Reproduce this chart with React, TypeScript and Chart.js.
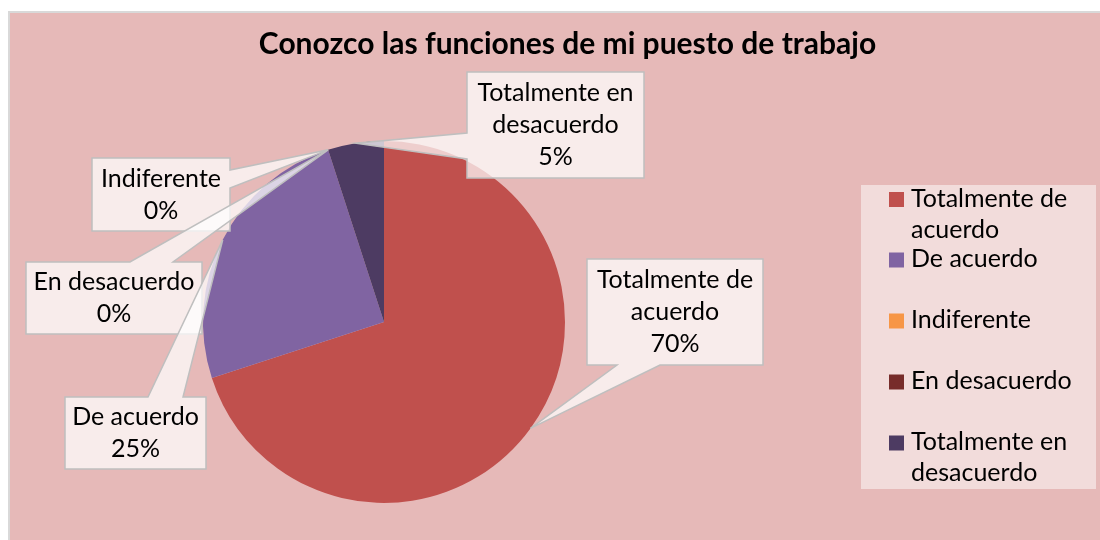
import React, { useEffect, useRef } from "react";
import { Chart, registerables } from "chart.js";

Chart.register(...registerables);

const TITLE = "Conozco las funciones de mi puesto de trabajo";
const CATEGORIES = [
  "Totalmente de acuerdo",
  "De acuerdo",
  "Indiferente",
  "En desacuerdo",
  "Totalmente en desacuerdo",
];
const VALUES = [70, 25, 0, 0, 5];
const COLORS = ["#C0504D", "#8064A2", "#F79646", "#772C2A", "#4D3B62"];

const FONT = "Lato, 'Open Sans', sans-serif";
const W = 1110;
const H = 550;
const TEXT_SIZE = 25;
const LINE_H = 32;

// callout boxes (canvas coords), one per slice, in slice order
const CALLOUTS = [
  { x: 579, y: 251, w: 176, h: 106, side: "bottom", a: 609, b: 652 },
  { x: 57, y: 389, w: 141, h: 72, side: "top", a: 140, b: 175 },
  { x: 84, y: 150, w: 138, h: 73, side: "right", a: 162, b: 180 },
  { x: 18, y: 254, w: 176, h: 72, side: "top", a: 122, b: 165 },
  { x: 459, y: 64, w: 177, h: 106, side: "left", a: 125, b: 151 },
];

const LEGEND_BOX = { x: 853, y: 177, w: 235, h: 304 };
const LEGEND_ITEM_Y = [191.5, 252, 313, 374, 435];

function wrap(ctx: CanvasRenderingContext2D, text: string, maxW: number): string[] {
  const words = text.split(" ");
  const lines: string[] = [];
  let cur = "";
  for (const w of words) {
    const t = cur ? cur + " " + w : w;
    if (cur && ctx.measureText(t).width > maxW) {
      lines.push(cur);
      cur = w;
    } else cur = t;
  }
  if (cur) lines.push(cur);
  return lines;
}

const decorPlugin = {
  id: "decor",
  beforeDraw(chart: any) {
    const ctx = chart.ctx as CanvasRenderingContext2D;
    ctx.save();
    ctx.fillStyle = "#FFFFFF";
    ctx.fillRect(0, 0, W, H);
    ctx.fillStyle = "#E6B9B8";
    ctx.fillRect(0, 3, W, H - 3);
    ctx.fillStyle = "#D9D9D9";
    ctx.fillRect(0, 3, W, 2);
    ctx.fillRect(0, 3, 2, H - 3);
    // title
    ctx.fillStyle = "#000";
    ctx.font = `bold 30px ${FONT}`;
    ctx.textAlign = "center";
    ctx.textBaseline = "middle";
    ctx.fillText(TITLE, 559.5, 36);
    ctx.restore();
  },
  afterDatasetsDraw(chart: any) {
    const ctx = chart.ctx as CanvasRenderingContext2D;
    const meta = chart.getDatasetMeta(0);
    const data = chart.data.datasets[0].data as number[];
    const total = data.reduce((s, v) => s + v, 0);
    ctx.save();
    ctx.font = `${TEXT_SIZE}px ${FONT}`;
    const order = [4, 2, 3, 1, 0];
    for (const i of order) {
      const c = CALLOUTS[i];
      const arc = meta.data[i];
      const mid = (arc.startAngle + arc.endAngle) / 2;
      const r = arc.outerRadius;
      const ax = arc.x + Math.cos(mid) * r;
      const ay = arc.y + Math.sin(mid) * r;
      const x0 = c.x, y0 = c.y, x1 = c.x + c.w, y1 = c.y + c.h;
      const pts: [number, number][] = [];
      if (c.side === "top") {
        pts.push([x0, y0], [c.a, y0], [ax, ay], [c.b, y0], [x1, y0], [x1, y1], [x0, y1]);
      } else if (c.side === "right") {
        pts.push([x0, y0], [x1, y0], [x1, c.a], [ax, ay], [x1, c.b], [x1, y1], [x0, y1]);
      } else if (c.side === "bottom") {
        pts.push([x0, y0], [x1, y0], [x1, y1], [c.b, y1], [ax, ay], [c.a, y1], [x0, y1]);
      } else {
        pts.push([x0, y0], [x1, y0], [x1, y1], [x0, y1], [x0, c.b], [ax, ay], [x0, c.a]);
      }
      ctx.beginPath();
      pts.forEach(([px, py], k) => (k ? ctx.lineTo(px, py) : ctx.moveTo(px, py)));
      ctx.closePath();
      ctx.fillStyle = "rgba(255,255,255,0.72)";
      ctx.fill();
      ctx.strokeStyle = "#BFBFBF";
      ctx.lineWidth = 1.5;
      ctx.stroke();

      const pct = Math.round((data[i] / total) * 100) + "%";
      const lines = wrap(ctx, chart.data.labels[i], c.w - 8).concat([pct]);
      ctx.fillStyle = "#000";
      ctx.textAlign = "center";
      ctx.textBaseline = "middle";
      const cy = c.y + c.h / 2 - ((lines.length - 1) * LINE_H) / 2;
      lines.forEach((ln, k) => ctx.fillText(ln, c.x + c.w / 2, cy + k * LINE_H));
    }
    ctx.restore();
  },
  afterDraw(chart: any) {
    const ctx = chart.ctx as CanvasRenderingContext2D;
    const ds = chart.data.datasets[0];
    ctx.save();
    ctx.fillStyle = "#F2DCDB";
    ctx.fillRect(LEGEND_BOX.x, LEGEND_BOX.y, LEGEND_BOX.w, LEGEND_BOX.h);
    ctx.font = `${TEXT_SIZE}px ${FONT}`;
    ctx.textAlign = "left";
    ctx.textBaseline = "middle";
    (chart.data.labels as string[]).forEach((lab, i) => {
      const cy = LEGEND_ITEM_Y[i];
      ctx.fillStyle = ds.backgroundColor[i];
      ctx.fillRect(881, cy - 7.5, 15, 15);
      ctx.fillStyle = "#000";
      const lines = wrap(ctx, lab, 180);
      lines.forEach((ln, k) => ctx.fillText(ln, 903, cy - 1 + k * 31));
    });
    ctx.restore();
  },
};

export default function App() {
  const ref = useRef<HTMLCanvasElement | null>(null);
  useEffect(() => {
    if (!ref.current) return;
    const chart = new Chart(ref.current, {
      type: "pie",
      data: {
        labels: CATEGORIES,
        datasets: [
          {
            data: VALUES,
            backgroundColor: COLORS,
            borderWidth: 0,
          },
        ],
      },
      options: {
        responsive: false,
        animation: false,
        events: [],
        layout: { padding: { left: 195, right: W - 557, top: 133, bottom: H - 495 } },
        plugins: {
          legend: { display: false },
          tooltip: { enabled: false },
          title: { display: false },
        },
      },
      plugins: [decorPlugin],
    });
    return () => chart.destroy();
  }, []);
  return (
    <canvas
      ref={ref}
      width={W}
      height={H}
      style={{ display: "block", position: "fixed", left: 8, top: 8, width: W, height: H }}
    />
  );
}
